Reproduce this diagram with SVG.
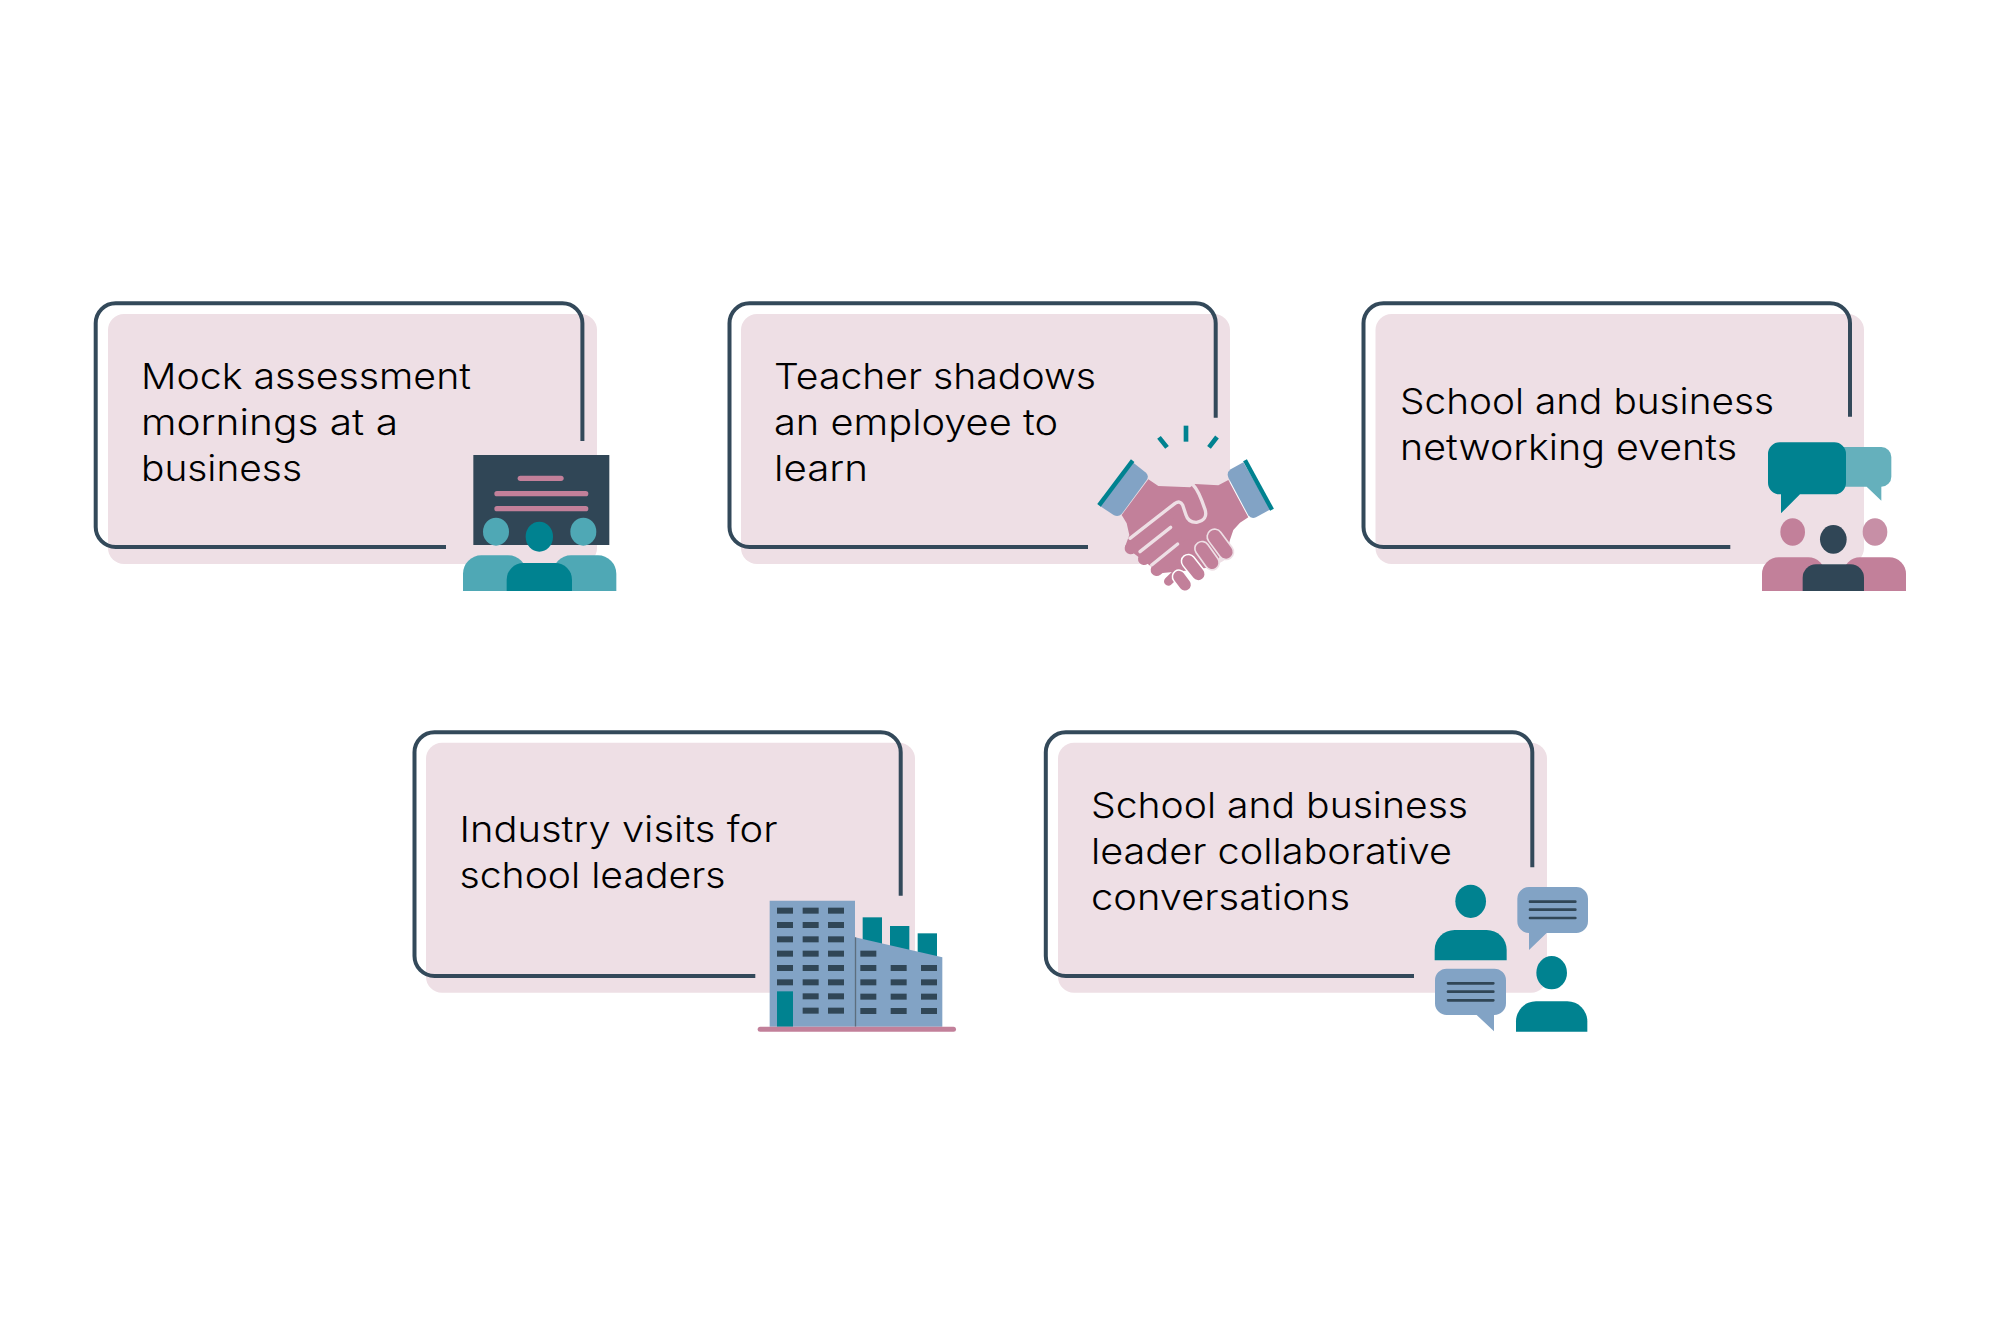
<svg xmlns="http://www.w3.org/2000/svg" width="2000" height="1333" viewBox="0 0 2000 1333">
<defs>
<style>
.fill{fill:#EEDFE5}
.out{fill:none;stroke:#33495A;stroke-width:4}
text{font-family:"Inter","Liberation Sans",sans-serif;font-size:36px;font-weight:300;fill:#000}
.d{fill:#304656}.p{fill:#C2809A}.t{fill:#008290}.b{fill:#82A3C5}.lt{fill:#4FA8B5}
.fi{fill:none;stroke:#C2809A;stroke-width:36;stroke-linecap:round}
.sep{fill:none;stroke:#EEDFE5;stroke-width:10;stroke-linecap:round;stroke-linejoin:round}
.tl{stroke:#304656;stroke-width:8;stroke-linecap:round}
</style>
<path id="win" d="M0 0h48v18h-48z" class="d"/>
</defs>
<rect width="2000" height="1333" fill="#fff"/>
<g id="node-1">
<rect class="fill" x="108" y="314" width="489" height="250" rx="16"/>
<path class="out" d="M446 547H115.700a20 20 0 0 1-20-20V323.300a20 20 0 0 1 20-20H562.400a20 20 0 0 1 20 20V441"/>
<text x="141" y="389" textLength="330" lengthAdjust="spacingAndGlyphs">Mock assessment</text>
<text x="141" y="435" textLength="257" lengthAdjust="spacingAndGlyphs">mornings at a</text>
<text x="141" y="481" textLength="161" lengthAdjust="spacingAndGlyphs">business</text>
<g transform="translate(440 430) scale(.33333)">
<rect class="d" x="100" y="75" width="408" height="270"/>
<g fill="#C2809A"><rect x="233" y="137" width="138" height="16" rx="8"/><rect x="163" y="183" width="282" height="16" rx="8"/><rect x="163" y="228" width="282" height="16" rx="8"/></g>
<ellipse class="lt" cx="168" cy="305" rx="39" ry="42"/><ellipse class="lt" cx="430" cy="305" rx="39" ry="42"/>
<path class="lt" d="M69 483V431a55 55 0 0 1 55-55H205a55 55 0 0 1 55 55V483z"/>
<path class="lt" d="M529 483V431a55 55 0 0 0-55-55H393a55 55 0 0 0-55 55V483z"/>
<ellipse class="t" cx="298" cy="320" rx="41" ry="45"/>
<path class="t" d="M200 483V449a50 50 0 0 1 50-50H346a50 50 0 0 1 50 50V483z"/>
</g>
</g>
<g id="node-2">
<rect class="fill" x="741" y="314" width="489" height="250" rx="16"/>
<path class="out" d="M1088 547H749.500a20 20 0 0 1-20-20V323.300a20 20 0 0 1 20-20H1195.700a20 20 0 0 1 20 20V417.700"/>
<text x="774" y="389" textLength="322" lengthAdjust="spacingAndGlyphs">Teacher shadows</text>
<text x="774" y="435" textLength="284" lengthAdjust="spacingAndGlyphs">an employee to</text>
<text x="774" y="481" textLength="94" lengthAdjust="spacingAndGlyphs">learn</text>
<g transform="translate(1080 410) scale(.33333)">
<rect class="t" x="311" y="47" width="14" height="48"/>
<path d="M237 82L261 112M387 112L411 81" stroke="#008290" stroke-width="14" fill="none"/>
<path class="p" d="M205 208L235 228 330 232 345 222 415 226 445 210 505 322 480 338 460 360 448 395 400 470 340 480 240 490 135 410 148 375 140 340 125 315z"/>
<path class="b" d="M160 158L198 188Q208 198 200 210L125 312Q115 322 102 316L60 288z"/>
<path d="M57 286L158 152" stroke="#008290" stroke-width="13" fill="none"/>
<path class="b" d="M490 157L452 178Q438 188 446 205L505 316Q514 328 528 322L572 298z"/>
<path d="M495 151L576 299" stroke="#008290" stroke-width="13" fill="none"/>
<path class="fi" d="M152 415L262 328M192 447L292 368M230 480L325 405"/>
<path fill="none" stroke="#C2809A" stroke-width="26" stroke-linecap="round" d="M265 514L285 495"/>
<g fill="none" stroke-linecap="round">
<path stroke="#EEDFE5" stroke-width="50" d="M438 426L404 380"/><path stroke="#C2809A" stroke-width="40" d="M438 426L404 380"/>
<path stroke="#EEDFE5" stroke-width="48" d="M396 458L366 416"/><path stroke="#C2809A" stroke-width="38" d="M396 458L366 416"/>
<path stroke="#fff" stroke-width="46" d="M355 492L325 454"/><path stroke="#C2809A" stroke-width="37" d="M355 492L325 454"/>
<path stroke="#fff" stroke-width="44" d="M315 524L297 500"/><path stroke="#C2809A" stroke-width="35" d="M315 524L297 500"/>
</g>
<path class="sep" d="M340 226Q355 240 375 298Q385 330 350 337Q325 338 318 315L308 285Q300 270 285 280L150 385"/>
<path class="sep" d="M272 352L180 425M293 402L215 465"/>
</g>
</g>
<g id="node-3">
<rect class="fill" x="1375.500" y="314" width="488.500" height="250" rx="16"/>
<path class="out" d="M1730.300 547H1383.500a20 20 0 0 1-20-20V323.300a20 20 0 0 1 20-20H1830a20 20 0 0 1 20 20V416.700"/>
<text x="1400" y="414" textLength="374" lengthAdjust="spacingAndGlyphs">School and business</text>
<text x="1400" y="460" textLength="337" lengthAdjust="spacingAndGlyphs">networking events</text>
<g transform="translate(1740 430) scale(.33333)">
<path fill="#65B0BC" d="M300 51H424a30 30 0 0 1 30 30V140a30 30 0 0 1-30 30V212L380 170H300z"/>
<path class="t" d="M119 37H283a35 35 0 0 1 35 35V158a35 35 0 0 1-35 35H180L123 250V193H119a35 35 0 0 1-35-35V72a35 35 0 0 1 35-35z"/>
<ellipse class="p" cx="158" cy="306" rx="37" ry="41"/><ellipse fill="#C78FA6" cx="405" cy="306" rx="37" ry="41"/>
<path class="p" d="M66 483V432a50 50 0 0 1 50-50H205a50 50 0 0 1 50 50V483z"/>
<path class="p" d="M498 483V432a50 50 0 0 0-50-50H360a50 50 0 0 0-50 50V483z"/>
<ellipse class="d" cx="280" cy="328" rx="40" ry="43"/>
<path class="d" d="M188 483V443a40 40 0 0 1 40-40H332a40 40 0 0 1 40 40V483z"/>
</g>
</g>
<g id="node-4">
<rect class="fill" x="426" y="742.700" width="489" height="250" rx="16"/>
<path class="out" d="M755.300 976H434.500a20 20 0 0 1-20-20V752.300a20 20 0 0 1 20-20H880.700a20 20 0 0 1 20 20V895.700"/>
<text x="459.500" y="842.200" textLength="318" lengthAdjust="spacingAndGlyphs">Industry visits for</text>
<text x="459.500" y="888.200" textLength="266" lengthAdjust="spacingAndGlyphs">school leaders</text>
<g transform="translate(740 880) scale(.33333)">
<rect class="t" x="368" y="112" width="58" height="90"/><rect class="t" x="450" y="138" width="58" height="90"/><rect class="t" x="533" y="160" width="58" height="80"/>
<path class="b" d="M89 62H345V172L607 232V440H89z"/>
<path d="M346.500 172V440" stroke="#5D6E7E" stroke-width="4"/>
<rect class="t" x="111" y="334" width="48" height="106"/>
<rect class="p" x="53" y="440" width="595" height="15" rx="7.500"/>
<use href="#win" x="111" y="83"/><use href="#win" x="188" y="83"/><use href="#win" x="264" y="83"/>
<use href="#win" x="111" y="126"/><use href="#win" x="188" y="126"/><use href="#win" x="264" y="126"/>
<use href="#win" x="111" y="169"/><use href="#win" x="188" y="169"/><use href="#win" x="264" y="169"/>
<use href="#win" x="111" y="212"/><use href="#win" x="188" y="212"/><use href="#win" x="264" y="212"/>
<use href="#win" x="111" y="255"/><use href="#win" x="188" y="255"/><use href="#win" x="264" y="255"/>
<use href="#win" x="111" y="298"/><use href="#win" x="188" y="298"/><use href="#win" x="264" y="298"/>
<use href="#win" x="188" y="340"/><use href="#win" x="264" y="340"/><use href="#win" x="188" y="383"/><use href="#win" x="264" y="383"/>
<use href="#win" x="361" y="212"/>
<use href="#win" x="361" y="255"/><use href="#win" x="452" y="255"/><use href="#win" x="543" y="255"/>
<use href="#win" x="361" y="298"/><use href="#win" x="452" y="298"/><use href="#win" x="543" y="298"/>
<use href="#win" x="361" y="341"/><use href="#win" x="452" y="341"/><use href="#win" x="543" y="341"/>
<use href="#win" x="361" y="384"/><use href="#win" x="452" y="384"/><use href="#win" x="543" y="384"/>
</g>
</g>
<g id="node-5">
<rect class="fill" x="1058" y="742.700" width="489" height="250" rx="16"/>
<path class="out" d="M1414 976H1065.800a20 20 0 0 1-20-20V752.300a20 20 0 0 1 20-20H1512.300a20 20 0 0 1 20 20V867.300"/>
<text x="1091" y="818.200" textLength="377" lengthAdjust="spacingAndGlyphs">School and business</text>
<text x="1091" y="864.200" textLength="361" lengthAdjust="spacingAndGlyphs">leader collaborative</text>
<text x="1091" y="910.200" textLength="259" lengthAdjust="spacingAndGlyphs">conversations</text>
<g transform="translate(1420 870) scale(.33333)">
<ellipse class="t" cx="152" cy="94" rx="46" ry="50"/>
<path class="t" d="M44 271V240a60 60 0 0 1 60-60H200a60 60 0 0 1 60 60V271z"/>
<ellipse class="t" cx="395" cy="308" rx="46" ry="50"/>
<path class="t" d="M288 485V454a60 60 0 0 1 60-60H442a60 60 0 0 1 60 60V485z"/>
<path class="b" d="M327 51H469a35 35 0 0 1 35 35V154a35 35 0 0 1-35 35H380L327 240V189a35 35 0 0 1-35-35V86a35 35 0 0 1 35-35z"/>
<path class="b" d="M80 296H223a35 35 0 0 1 35 35V400a35 35 0 0 1-35 35H222V484L170 435H80a35 35 0 0 1-35-35V331a35 35 0 0 1 35-35z"/>
<path class="tl" d="M330 95H466M330 119H466M330 144H466M84 340H220M84 365H220M84 391H220"/>
</g>
</g>
</svg>
